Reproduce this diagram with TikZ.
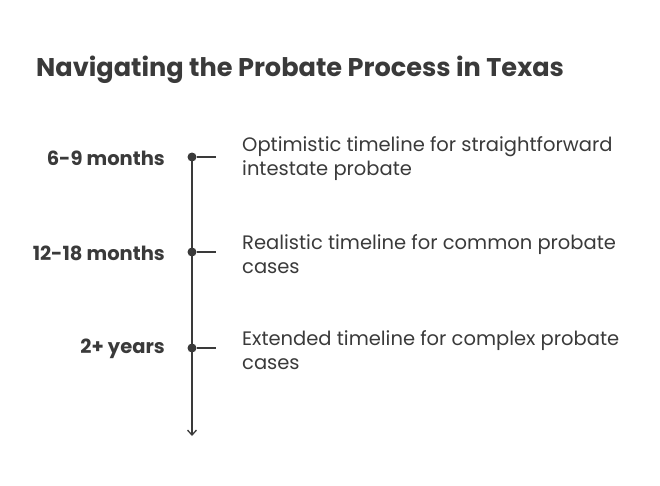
\documentclass[tikz,border=0pt]{standalone}
\usepackage{fontspec}
\setmainfont{Poppins}
\usetikzlibrary{arrows.meta}
\definecolor{ink}{HTML}{3A3A3A}
\tikzset{
  lab/.style={anchor=east,font=\fontsize{19.5}{22}\selectfont\bfseries,text=ink,inner sep=0},
  desc/.style={anchor=west,align=left,font=\fontsize{19.5}{24}\selectfont,text=ink,inner sep=0},
  tick/.style={draw=ink,line width=1.8pt},
  dot/.style={circle,fill=ink,inner sep=0,minimum size=9pt}
}
\begin{document}
\begin{tikzpicture}[x=1pt,y=-1pt]
\useasboundingbox (0,0) rectangle (660,485);
\node[anchor=base west,font=\fontsize{25.6}{30}\selectfont\bfseries,text=ink,inner sep=0] (title) at (36,76) {Navigating the Probate Process in Texas};
\coordinate (top) at (192,157);
\coordinate (bot) at (192,436);
\draw[ink,line width=1.3pt,-{Straight Barb[length=5pt,width=9pt]}] (top) -- (bot);
\foreach \y/\n/\l/\d in {157/a/6-9 months/{Optimistic timeline for straightforward\\intestate probate},252/b/12-18 months/{Realistic timeline for common probate\\cases},348/c/2+ years/{Extended timeline for complex probate\\cases}}{
  \node[dot] (d\n) at (192,\y) {};
  \coordinate (t\n) at (216,\y);
  \draw[tick] (d\n) -- (t\n);
  \node[lab] (l\n) at (165,\y+1) {\l};
  \node[desc] (x\n) at (242,\y+2) {\d};
}
\end{tikzpicture}
\end{document}
